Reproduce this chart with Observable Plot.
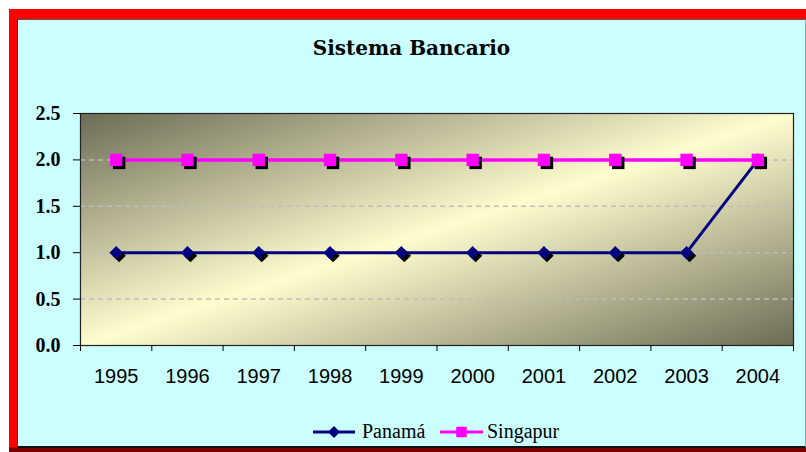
<!DOCTYPE html>
<html><head><meta charset="utf-8">
<script src="https://cdn.jsdelivr.net/npm/d3@7"></script>
<script src="https://cdn.jsdelivr.net/npm/@observablehq/plot@0.6"></script>
<style>
html,body{margin:0;padding:0;background:#fff;}
body{width:806px;height:452px;overflow:hidden;position:relative;}
#outer{position:absolute;left:9px;top:9px;width:797px;height:443px;
  background:linear-gradient(to bottom,#ff0000 0,#ff0000 438px,#7a0000 439px,#7a0000 443px);}
#inner{position:absolute;left:8px;top:10px;width:787px;height:426px;background:#ccffff;
  border-left:1px solid #333;border-top:1px solid #555;border-bottom:2px solid #111;border-right:1px solid #999;}
#title{position:absolute;left:0;top:16px;width:787px;text-align:center;
  font-family:"DejaVu Serif",serif;font-weight:bold;font-size:20px;color:#000;}
#chart{position:absolute;left:0;top:0;}
#legend{position:absolute;left:0;top:0;}
</style>
</head><body>
<div id="outer"><div id="inner">
  <div id="title">Sistema Bancario</div>
  <div id="chart"></div>
  <svg id="legend" width="787" height="426"></svg>
</div></div>
<script>
const years = [1995, 1996, 1997, 1998, 1999, 2000, 2001, 2002, 2003, 2004];
const yearLabels = ["1995","1996","1997","1998","1999","2000","2001","2002","2003","2004"];
const panama = [1, 1, 1, 1, 1, 1, 1, 1, 1, 2];
const singapur = [2, 2, 2, 2, 2, 2, 2, 2, 2, 2];
const yTicks = [0, 0.5, 1.0, 1.5, 2.0, 2.5];
const seriesNames = ["Panamá", "Singapur"];
const seriesColors = ["#000080", "#ff00ff"];

const panamaData = years.map((yr, i) => ({year: yr, value: panama[i]}));
const singapurData = years.map((yr, i) => ({year: yr, value: singapur[i]}));
const xBounds = years.map(y => y - 0.5).concat([years[years.length - 1] + 0.5]);
const gridTicks = yTicks.filter(t => t > 0 && t < yTicks[yTicks.length - 1]);

const svg = Plot.plot({
  width: 787,
  height: 380,
  marginLeft: 62,
  marginRight: 12,
  marginTop: 93,
  marginBottom: 55,
  style: {background: "transparent", color: "#000", overflow: "visible"},
  x: {type: "linear", domain: [xBounds[0], xBounds[xBounds.length - 1]], label: null},
  y: {domain: [yTicks[0], yTicks[yTicks.length - 1]], label: null},
  marks: [
    Plot.frame({fill: "url(#bgGrad)", stroke: "none"}),
    Plot.ruleY(gridTicks, {stroke: "#bdbdbd", strokeWidth: 1.5, strokeDasharray: "5,4"}),
    Plot.frame({stroke: "#222", strokeWidth: 1.2}),
    Plot.axisY({ticks: yTicks, tickFormat: d => d.toFixed(1), tickSize: 7, tickPadding: 13,
      fontFamily: "Liberation Serif, serif", fontWeight: "bold", fontSize: 20, stroke: "#000"}),
    Plot.axisX({ticks: xBounds, tickFormat: () => "", tickSize: 6, stroke: "#000"}),
    Plot.axisX({ticks: years, tickFormat: d => yearLabels[years.indexOf(d)], tickSize: 0, tickPadding: 23,
      fontFamily: "Liberation Sans, sans-serif", fontSize: 20}),
    Plot.line(panamaData, {x: "year", y: "value", stroke: seriesColors[0], strokeWidth: 3}),
    Plot.dot(panamaData, {x: "year", y: "value", symbol: "diamond2", r: 6, fill: "#000", stroke: "none", dx: 3, dy: 3}),
    Plot.dot(panamaData, {x: "year", y: "value", symbol: "diamond2", r: 6, fill: seriesColors[0], stroke: "none"}),
    Plot.line(singapurData, {x: "year", y: "value", stroke: seriesColors[1], strokeWidth: 3.5}),
    Plot.dot(singapurData, {x: "year", y: "value", symbol: "square", r: 7, fill: "#000", stroke: "none", dx: 3, dy: 3}),
    Plot.dot(singapurData, {x: "year", y: "value", symbol: "square", r: 7, fill: seriesColors[1], stroke: "none"})
  ]
});

const defs = d3.select(svg).insert("defs", ":first-child");
const grad = defs.append("linearGradient").attr("id", "bgGrad")
  .attr("x1", 0).attr("y1", 0).attr("x2", 1).attr("y2", 1);
grad.append("stop").attr("offset", "0%").attr("stop-color", "#6c6c56");
grad.append("stop").attr("offset", "50%").attr("stop-color", "#fffcce");
grad.append("stop").attr("offset", "100%").attr("stop-color", "#6c6c56");

document.getElementById("chart").appendChild(svg);

// legend
const lg = d3.select("#legend");
const items = [
  {name: seriesNames[0], color: seriesColors[0], x0: 295, x1: 337, tx: 344, sym: d3.symbolDiamond2, size: 90},
  {name: seriesNames[1], color: seriesColors[1], x0: 422, x1: 465, tx: 469, sym: d3.symbolSquare, size: 110}
];
const ly = 412;
for (const it of items) {
  lg.append("line").attr("x1", it.x0).attr("x2", it.x1).attr("y1", ly).attr("y2", ly)
    .attr("stroke", it.color).attr("stroke-width", 3);
  lg.append("path").attr("d", d3.symbol(it.sym, it.size)())
    .attr("transform", `translate(${(it.x0 + it.x1) / 2},${ly})`).attr("fill", it.color);
  lg.append("text").attr("x", it.tx).attr("y", ly + 6).text(it.name)
    .attr("font-family", "Liberation Serif, serif").attr("font-size", 20).attr("fill", "#000");
}
</script>
</body></html>
